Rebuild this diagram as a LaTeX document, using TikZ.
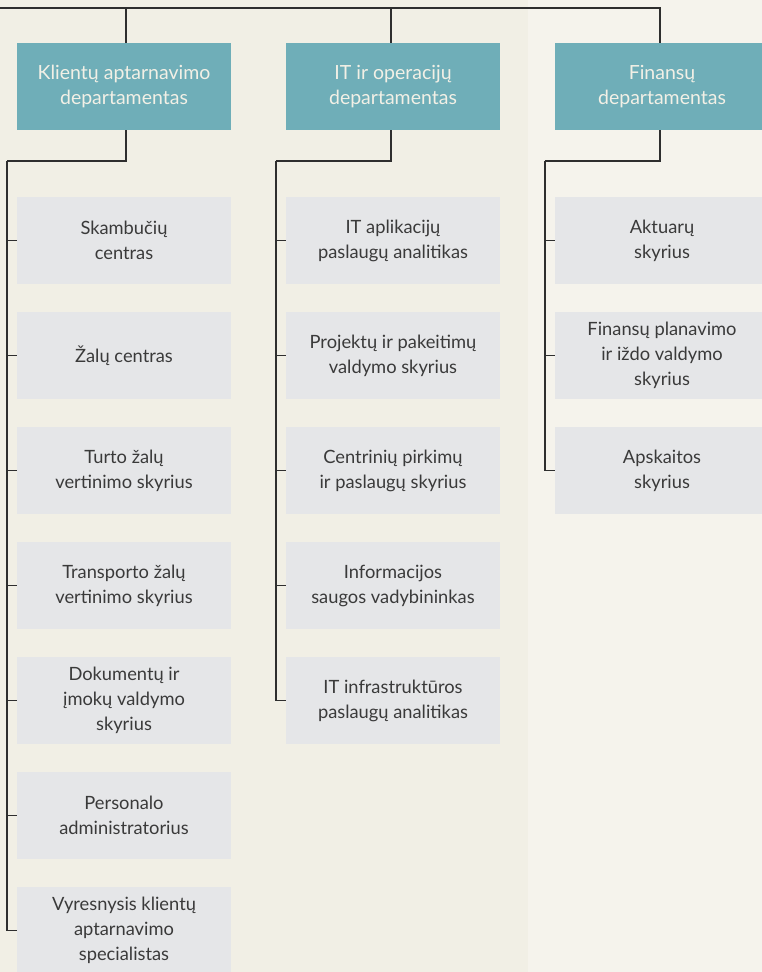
\documentclass[tikz,border=0pt]{standalone}
\usepackage{fontspec}
\setmainfont{Lato}
\usepackage{tikz}
\definecolor{bgleft}{HTML}{F1EFE5}
\definecolor{bgright}{HTML}{F5F3EC}
\definecolor{deptteal}{HTML}{6FAEB8}
\definecolor{depttext}{HTML}{F2F0E6}
\definecolor{unitgray}{HTML}{E5E6E8}
\definecolor{unittext}{HTML}{3A3A3A}
\definecolor{linkline}{HTML}{2E2E2E}

\begin{document}
\begin{tikzpicture}[x=1pt,y=-1pt,
  dept/.style={fill=deptteal,text=depttext,minimum width=214pt,minimum height=87pt,inner sep=0pt,align=center,font=\fontsize{19.5}{25}\selectfont},
  unit/.style={fill=unitgray,text=unittext,minimum width=214pt,minimum height=87pt,inner sep=0pt,align=center,font=\fontsize{18.3}{25}\selectfont},
  link/.style={draw=linkline,line width=1.2pt}]
\path[use as bounding box,clip](0,0)rectangle(762,972);
\fill[bgleft](0,0)rectangle(528,972);
\fill[bgright](528,0)rectangle(762,972);

\coordinate (top) at (0,8);
\coordinate (bus1) at (7,161);
\coordinate (bus2) at (276,161);
\coordinate (bus3) at (545,161);

\node[dept] (klient) at (124,86.5) {Klientų aptarnavimo\\departamentas};
\node[dept] (it) at (393,86.5) {IT ir operacijų\\departamentas};
\node[dept] (fin) at (662,86.5) {Finansų\\departamentas};

\node[unit] (k1) at (124,240.5) {Skambučių\\centras};
\node[unit] (k2) at (124,355.5) {Žalų centras};
\node[unit] (k3) at (124,470.5) {Turto žalų\\vertinimo skyrius};
\node[unit] (k4) at (124,585.5) {Transporto žalų\\vertinimo skyrius};
\node[unit] (k5) at (124,700.5) {Dokumentų ir\\įmokų valdymo\\skyrius};
\node[unit] (k6) at (124,815.5) {Personalo\\administratorius};
\node[unit] (k7) at (124,930.5) {Vyresnysis klientų\\aptarnavimo\\specialistas};

\node[unit] (it1) at (393,240.5) {IT aplikacijų\\paslaugų analitikas};
\node[unit] (it2) at (393,355.5) {Projektų ir pakeitimų\\valdymo skyrius};
\node[unit] (it3) at (393,470.5) {Centrinių pirkimų\\ir paslaugų skyrius};
\node[unit] (it4) at (393,585.5) {Informacijos\\saugos vadybininkas};
\node[unit] (it5) at (393,700.5) {IT infrastruktūros\\paslaugų analitikas};

\node[unit] (f1) at (662,240.5) {Aktuarų\\skyrius};
\node[unit] (f2) at (662,355.5) {Finansų planavimo\\ir iždo valdymo\\skyrius};
\node[unit] (f3) at (662,470.5) {Apskaitos\\skyrius};

\draw[link](top)-|([xshift=2pt]klient.north);
\draw[link](top)-|([xshift=-2pt]it.north);
\draw[link](top)-|([xshift=-2pt]fin.north);

\draw[link]([xshift=2pt]klient.south)|-(bus1);
\draw[link]([xshift=-2pt]it.south)|-(bus2);
\draw[link]([xshift=-2pt]fin.south)|-(bus3);

\draw[link](bus1)|-(k1.west);
\draw[link](bus1)|-(k2.west);
\draw[link](bus1)|-(k3.west);
\draw[link](bus1)|-(k4.west);
\draw[link](bus1)|-(k5.west);
\draw[link](bus1)|-(k6.west);
\draw[link](bus1)|-(k7.west);

\draw[link](bus2)|-(it1.west);
\draw[link](bus2)|-(it2.west);
\draw[link](bus2)|-(it3.west);
\draw[link](bus2)|-(it4.west);
\draw[link](bus2)|-(it5.west);

\draw[link](bus3)|-(f1.west);
\draw[link](bus3)|-(f2.west);
\draw[link](bus3)|-(f3.west);
\end{tikzpicture}
\end{document}
